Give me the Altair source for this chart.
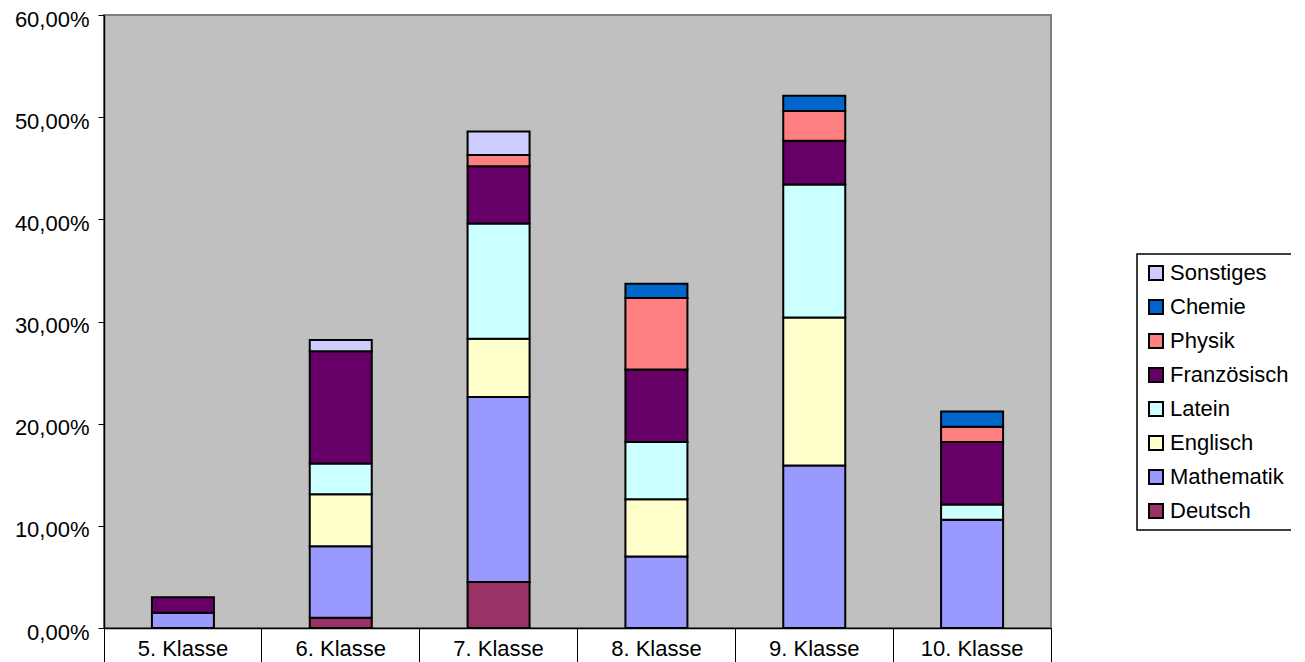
import altair as alt
import pandas as pd

classes = ["5. Klasse", "6. Klasse", "7. Klasse", "8. Klasse", "9. Klasse", "10. Klasse"]
subjects = ["Deutsch", "Mathematik", "Englisch", "Latein", "Französisch", "Physik", "Chemie", "Sonstiges"]
colors = ["#993366", "#9999FF", "#FFFFCC", "#CCFFFF", "#660066", "#FF8080", "#0066CC", "#CCCCFF"]

deutsch = [0, 1.0, 4.5, 0, 0, 0]
mathematik = [1.5, 7.0, 18.1, 7.0, 15.9, 10.6]
englisch = [0, 5.1, 5.7, 5.6, 14.5, 0]
latein = [0, 3.0, 11.3, 5.6, 13.0, 1.5]
franzoesisch = [1.5, 11.0, 5.6, 7.1, 4.3, 6.1]
physik = [0, 0, 1.1, 7.0, 2.9, 1.5]
chemie = [0, 0, 0, 1.4, 1.5, 1.5]
sonstiges = [0, 1.1, 2.3, 0, 0, 0]

series = [deutsch, mathematik, englisch, latein, franzoesisch, physik, chemie, sonstiges]
rows = []
for si, (name, vals) in enumerate(zip(subjects, series)):
    for c, v in zip(classes, vals):
        if v > 0:
            rows.append({"Klasse": c, "Fach": name, "Wert": v, "idx": si})
df = pd.DataFrame(rows)

FONT = "Liberation Sans"

legend_order = subjects[::-1]
legend_colors = colors[::-1]

bars = alt.Chart(df).mark_bar(size=62, stroke="black", strokeWidth=2).encode(
    x=alt.X("Klasse:N", sort=classes, title=None,
            scale=alt.Scale(paddingInner=0, paddingOuter=0),
            axis=alt.Axis(labelAngle=0, bandPosition=1, tickExtra=True, tickSize=34,
                          tickColor="black", tickWidth=1, domainColor="black", domainWidth=1.5,
                          labelFontSize=22, labelFont=FONT, labelColor="black",
                          labelPadding=-24, labelBaseline="top")),
    y=alt.Y("Wert:Q", stack="zero", title=None,
            scale=alt.Scale(domain=[0, 60], nice=False),
            axis=alt.Axis(values=[0, 10, 20, 30, 40, 50, 60], grid=False,
                          labelExpr="replace(format(datum.value, '.2f'), '.', ',') + '%'",
                          tickSize=6, tickColor="black", domainColor="black", domainWidth=1.5,
                          labelFontSize=22, labelFont=FONT, labelColor="black", labelPadding=9,
                          labelOffset=4)),
    color=alt.Color("Fach:N", scale=alt.Scale(domain=legend_order, range=legend_colors),
                    legend=alt.Legend(title=None, orient="none", legendX=1033, legendY=239,
                                      symbolType="square", symbolSize=196,
                                      symbolStrokeColor="black", symbolStrokeWidth=2,
                                      symbolOpacity=1,
                                      labelFontSize=22, labelFont=FONT, labelColor="black",
                                      labelOffset=3, rowPadding=12, padding=8,
                                      strokeColor="black", fillColor="white")),
    order=alt.Order("idx:Q", sort="ascending"),
)

chart = bars.properties(
    width=947, height=613,
    autosize=alt.AutoSizeParams(type="none"),
    padding={"left": 96, "top": 7, "right": 240, "bottom": 34},
    background="white",
).configure_view(
    fill="#C0C0C0", stroke="#808080", strokeWidth=2
).configure_legend(strokeWidth=1.5)

chart.save("out.html", embed_options={"renderer": "svg", "actions": False})
